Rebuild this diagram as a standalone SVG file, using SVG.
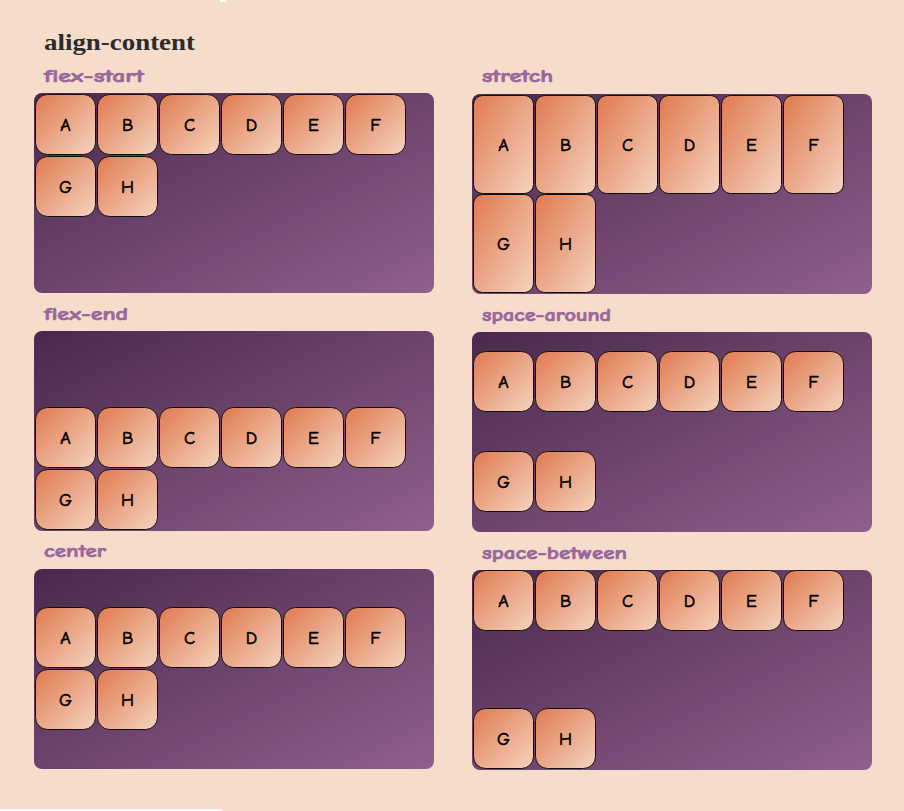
<svg xmlns="http://www.w3.org/2000/svg" width="904" height="811" viewBox="0 0 904 811">
<defs>
<linearGradient id="gPanel" x1="0" y1="0" x2="1" y2="1">
<stop offset="0" stop-color="#4a284d"/>
<stop offset="1" stop-color="#915f8c"/>
</linearGradient>
<linearGradient id="gBox" x1="0" y1="0" x2="1" y2="1">
<stop offset="0" stop-color="#e07a50"/>
<stop offset="1" stop-color="#f5d3bf"/>
</linearGradient>
<style>
.panel{fill:url(#gPanel)}
.box{fill:url(#gBox);stroke:#111;stroke-width:1}
.lt{font-family:"Comic Neue","Comic Sans MS","DejaVu Sans",sans-serif;font-size:18px;fill:#000;stroke:#000;stroke-width:0.6;text-anchor:middle}
.lab{font-family:"Comic Neue","Comic Sans MS","DejaVu Sans",sans-serif;font-weight:bold;font-size:19px;fill:#9a679b;stroke:#9a679b;stroke-width:0.7}
.hd{font-family:"Liberation Serif","DejaVu Serif",serif;font-weight:bold;font-size:23px;fill:#2b2b2b}
</style>
</defs>
<rect width="904" height="811" fill="#f5dccb"/>
<rect x="220" y="0" width="6" height="2" fill="#ffffff"/>
<rect x="0" y="809" width="222" height="2" fill="#ffffff"/>
<text class="hd" x="44" y="50" textLength="151" lengthAdjust="spacingAndGlyphs">align-content</text>

<g id="flex-start">
<text class="lab" x="44" y="82" textLength="100" lengthAdjust="spacingAndGlyphs">flex-start</text>
<rect class="panel" x="34" y="93" width="400" height="200" rx="8"/>
<g id="fs-A"><rect class="box" x="35.5" y="94.5" width="60" height="60" rx="12"/><text class="lt" x="65.5" y="131">A</text></g>
<g id="fs-B"><rect class="box" x="97.5" y="94.5" width="60" height="60" rx="12"/><text class="lt" x="127.5" y="131">B</text></g>
<g id="fs-C"><rect class="box" x="159.5" y="94.5" width="60" height="60" rx="12"/><text class="lt" x="189.5" y="131">C</text></g>
<g id="fs-D"><rect class="box" x="221.5" y="94.5" width="60" height="60" rx="12"/><text class="lt" x="251.5" y="131">D</text></g>
<g id="fs-E"><rect class="box" x="283.5" y="94.5" width="60" height="60" rx="12"/><text class="lt" x="313.5" y="131">E</text></g>
<g id="fs-F"><rect class="box" x="345.5" y="94.5" width="60" height="60" rx="12"/><text class="lt" x="375.5" y="131">F</text></g>
<g id="fs-G"><rect class="box" x="35.5" y="156.5" width="60" height="60" rx="12"/><text class="lt" x="65.5" y="193">G</text></g>
<g id="fs-H"><rect class="box" x="97.5" y="156.5" width="60" height="60" rx="12"/><text class="lt" x="127.5" y="193">H</text></g>
</g>

<g id="stretch">
<text class="lab" x="482" y="82" textLength="71" lengthAdjust="spacingAndGlyphs">stretch</text>
<rect class="panel" x="472" y="94" width="400" height="200" rx="8"/>
<g id="st-A"><rect class="box" x="473.5" y="95.5" width="60" height="98" rx="9"/><text class="lt" x="503.5" y="151">A</text></g>
<g id="st-B"><rect class="box" x="535.5" y="95.5" width="60" height="98" rx="9"/><text class="lt" x="565.5" y="151">B</text></g>
<g id="st-C"><rect class="box" x="597.5" y="95.5" width="60" height="98" rx="9"/><text class="lt" x="627.5" y="151">C</text></g>
<g id="st-D"><rect class="box" x="659.5" y="95.5" width="60" height="98" rx="9"/><text class="lt" x="689.5" y="151">D</text></g>
<g id="st-E"><rect class="box" x="721.5" y="95.5" width="60" height="98" rx="9"/><text class="lt" x="751.5" y="151">E</text></g>
<g id="st-F"><rect class="box" x="783.5" y="95.5" width="60" height="98" rx="9"/><text class="lt" x="813.5" y="151">F</text></g>
<g id="st-G"><rect class="box" x="473.5" y="194.5" width="60" height="98" rx="9"/><text class="lt" x="503.5" y="250">G</text></g>
<g id="st-H"><rect class="box" x="535.5" y="194.5" width="60" height="98" rx="9"/><text class="lt" x="565.5" y="250">H</text></g>
</g>

<g id="flex-end">
<text class="lab" x="44" y="320" textLength="84" lengthAdjust="spacingAndGlyphs">flex-end</text>
<rect class="panel" x="34" y="331" width="400" height="200" rx="8"/>
<g id="fe-A"><rect class="box" x="35.5" y="407.5" width="60" height="60" rx="12"/><text class="lt" x="65.5" y="444">A</text></g>
<g id="fe-B"><rect class="box" x="97.5" y="407.5" width="60" height="60" rx="12"/><text class="lt" x="127.5" y="444">B</text></g>
<g id="fe-C"><rect class="box" x="159.5" y="407.5" width="60" height="60" rx="12"/><text class="lt" x="189.5" y="444">C</text></g>
<g id="fe-D"><rect class="box" x="221.5" y="407.5" width="60" height="60" rx="12"/><text class="lt" x="251.5" y="444">D</text></g>
<g id="fe-E"><rect class="box" x="283.5" y="407.5" width="60" height="60" rx="12"/><text class="lt" x="313.5" y="444">E</text></g>
<g id="fe-F"><rect class="box" x="345.5" y="407.5" width="60" height="60" rx="12"/><text class="lt" x="375.5" y="444">F</text></g>
<g id="fe-G"><rect class="box" x="35.5" y="469.5" width="60" height="60" rx="12"/><text class="lt" x="65.5" y="506">G</text></g>
<g id="fe-H"><rect class="box" x="97.5" y="469.5" width="60" height="60" rx="12"/><text class="lt" x="127.5" y="506">H</text></g>
</g>

<g id="space-around">
<text class="lab" x="482" y="321" textLength="129" lengthAdjust="spacingAndGlyphs">space-around</text>
<rect class="panel" x="472" y="332" width="400" height="200" rx="8"/>
<g id="sa-A"><rect class="box" x="473.5" y="351.5" width="60" height="60" rx="12"/><text class="lt" x="503.5" y="388">A</text></g>
<g id="sa-B"><rect class="box" x="535.5" y="351.5" width="60" height="60" rx="12"/><text class="lt" x="565.5" y="388">B</text></g>
<g id="sa-C"><rect class="box" x="597.5" y="351.5" width="60" height="60" rx="12"/><text class="lt" x="627.5" y="388">C</text></g>
<g id="sa-D"><rect class="box" x="659.5" y="351.5" width="60" height="60" rx="12"/><text class="lt" x="689.5" y="388">D</text></g>
<g id="sa-E"><rect class="box" x="721.5" y="351.5" width="60" height="60" rx="12"/><text class="lt" x="751.5" y="388">E</text></g>
<g id="sa-F"><rect class="box" x="783.5" y="351.5" width="60" height="60" rx="12"/><text class="lt" x="813.5" y="388">F</text></g>
<g id="sa-G"><rect class="box" x="473.5" y="451.5" width="60" height="60" rx="12"/><text class="lt" x="503.5" y="488">G</text></g>
<g id="sa-H"><rect class="box" x="535.5" y="451.5" width="60" height="60" rx="12"/><text class="lt" x="565.5" y="488">H</text></g>
</g>

<g id="center">
<text class="lab" x="44" y="557" textLength="62" lengthAdjust="spacingAndGlyphs">center</text>
<rect class="panel" x="34" y="569" width="400" height="200" rx="8"/>
<g id="ce-A"><rect class="box" x="35.5" y="607.5" width="60" height="60" rx="12"/><text class="lt" x="65.5" y="644">A</text></g>
<g id="ce-B"><rect class="box" x="97.5" y="607.5" width="60" height="60" rx="12"/><text class="lt" x="127.5" y="644">B</text></g>
<g id="ce-C"><rect class="box" x="159.5" y="607.5" width="60" height="60" rx="12"/><text class="lt" x="189.5" y="644">C</text></g>
<g id="ce-D"><rect class="box" x="221.5" y="607.5" width="60" height="60" rx="12"/><text class="lt" x="251.5" y="644">D</text></g>
<g id="ce-E"><rect class="box" x="283.5" y="607.5" width="60" height="60" rx="12"/><text class="lt" x="313.5" y="644">E</text></g>
<g id="ce-F"><rect class="box" x="345.5" y="607.5" width="60" height="60" rx="12"/><text class="lt" x="375.5" y="644">F</text></g>
<g id="ce-G"><rect class="box" x="35.5" y="669.5" width="60" height="60" rx="12"/><text class="lt" x="65.5" y="706">G</text></g>
<g id="ce-H"><rect class="box" x="97.5" y="669.5" width="60" height="60" rx="12"/><text class="lt" x="127.5" y="706">H</text></g>
</g>

<g id="space-between">
<text class="lab" x="482" y="559" textLength="145" lengthAdjust="spacingAndGlyphs">space-between</text>
<rect class="panel" x="472" y="570" width="400" height="200" rx="8"/>
<g id="sb-A"><rect class="box" x="473.5" y="570.5" width="60" height="60" rx="12"/><text class="lt" x="503.5" y="607">A</text></g>
<g id="sb-B"><rect class="box" x="535.5" y="570.5" width="60" height="60" rx="12"/><text class="lt" x="565.5" y="607">B</text></g>
<g id="sb-C"><rect class="box" x="597.5" y="570.5" width="60" height="60" rx="12"/><text class="lt" x="627.5" y="607">C</text></g>
<g id="sb-D"><rect class="box" x="659.5" y="570.5" width="60" height="60" rx="12"/><text class="lt" x="689.5" y="607">D</text></g>
<g id="sb-E"><rect class="box" x="721.5" y="570.5" width="60" height="60" rx="12"/><text class="lt" x="751.5" y="607">E</text></g>
<g id="sb-F"><rect class="box" x="783.5" y="570.5" width="60" height="60" rx="12"/><text class="lt" x="813.5" y="607">F</text></g>
<g id="sb-G"><rect class="box" x="473.5" y="708.5" width="60" height="60" rx="12"/><text class="lt" x="503.5" y="745">G</text></g>
<g id="sb-H"><rect class="box" x="535.5" y="708.5" width="60" height="60" rx="12"/><text class="lt" x="565.5" y="745">H</text></g>
</g>
<g id="connectors"/>
</svg>
